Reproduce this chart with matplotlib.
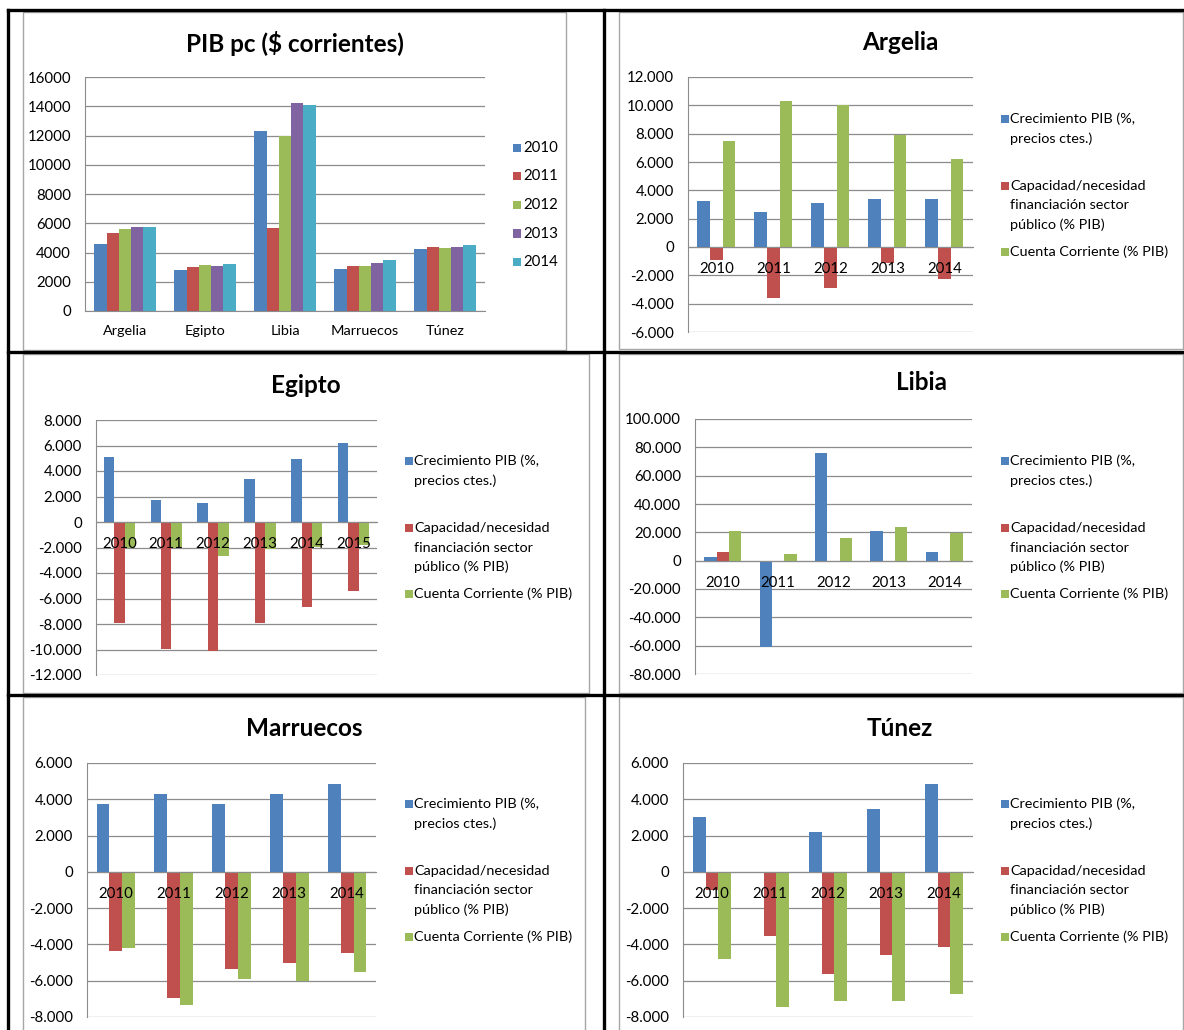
import matplotlib.pyplot as plt
import numpy as np
from matplotlib.lines import Line2D
from matplotlib.patches import Rectangle

# ---- data ----
countries = ["Argelia", "Egipto", "Libia", "Marruecos", "Túnez"]
years_pib = ["2010", "2011", "2012", "2013", "2014"]
pib_2010 = [4550, 2800, 12280, 2870, 4210]
pib_2011 = [5310, 3010, 5700, 3050, 4350]
pib_2012 = [5630, 3140, 12000, 3050, 4280]
pib_2013 = [5760, 3080, 14190, 3260, 4350]
pib_2014 = [5760, 3190, 14080, 3460, 4530]

series_names = [
    "Crecimiento PIB (%,\nprecios ctes.)",
    "Capacidad/necesidad\nfinanciación sector\npúblico (% PIB)",
    "Cuenta Corriente (% PIB)",
]

argelia_years = ["2010", "2011", "2012", "2013", "2014"]
argelia_crec = [3.26, 2.49, 3.08, 3.40, 3.40]
argelia_cap = [-0.94, -3.61, -2.89, -1.10, -2.23]
argelia_cc = [7.51, 10.30, 10.02, 7.93, 6.24]

egipto_years = ["2010", "2011", "2012", "2013", "2014", "2015"]
egipto_crec = [5.10, 1.70, 1.49, 3.35, 4.97, 6.22]
egipto_cap = [-7.90, -9.99, -10.09, -7.90, -6.67, -5.41]
egipto_cc = [-2.00, -2.00, -2.67, -2.14, -1.96, -1.83]

libia_years = ["2010", "2011", "2012", "2013", "2014"]
libia_crec = [2.6, -61.1, 75.9, 20.9, 6.3]
libia_cap = [6.3, 0, 0, 0, 0]
libia_cc = [20.9, 4.5, 15.7, 23.5, 19.7]

marruecos_years = ["2010", "2011", "2012", "2013", "2014"]
marruecos_crec = [3.72, 4.29, 3.72, 4.29, 4.85]
marruecos_cap = [-4.36, -6.96, -5.35, -5.04, -4.49]
marruecos_cc = [-4.21, -7.36, -5.93, -6.01, -5.53]

tunez_years = ["2010", "2011", "2012", "2013", "2014"]
tunez_crec = [3.01, 0, 2.21, 3.49, 4.83]
tunez_cap = [-1.0, -3.53, -5.64, -4.61, -4.15]
tunez_cc = [-4.82, -7.46, -7.10, -7.10, -6.73]

BLUE, RED, GREEN, PURPLE, AQUA = "#4F81BD", "#C0504D", "#9BBB59", "#8064A2", "#4BACC6"
GRID = "#8c8c8c"
FONT = "Lato"

W, H = 1184, 1030
fig = plt.figure(figsize=(W / 100, H / 100), dpi=100)
fig.patch.set_facecolor("white")


def fx(x):
    return x / W


def fy(y):
    return 1 - y / H


def px_axes(x0, y0, x1, y1):
    return fig.add_axes([fx(x0), fy(y1), (x1 - x0) / W, (y1 - y0) / H])


def frame(x0, y0, x1, y1):
    fig.add_artist(Rectangle((fx(x0), fy(y1)), (x1 - x0) / W, (y1 - y0) / H,
                             transform=fig.transFigure, fill=False,
                             edgecolor="#a6a6a6", lw=1.0))


def table_line(x0, y0, x1, y1):
    fig.add_artist(Line2D([fx(x0), fx(x1)], [fy(y0), fy(y1)],
                          transform=fig.transFigure, color="black", lw=2.4))


def style_axes(ax, lo, hi, step, fmt):
    ax.set_ylim(lo, hi)
    ticks = np.arange(lo, hi + step / 2, step)
    ax.set_yticks(ticks)
    ax.set_yticklabels([fmt(t) for t in ticks], fontsize=10.8, family=FONT)
    ax.set_axisbelow(True)
    ax.grid(axis="y", color=GRID, lw=0.9)
    ax.spines["top"].set_visible(False)
    ax.spines["right"].set_visible(False)
    ax.spines["left"].set_color(GRID)
    ax.spines["bottom"].set_color(GRID)
    ax.spines["bottom"].set_position(("data", 0))
    ax.tick_params(length=0, pad=10)
    ax.set_facecolor("none")


def sub_fmt(v):
    return "0" if v == 0 else f"{v:.3f}"


def draw_panel(fr, plot, title_xy, title, years, vals, ylim, step):
    frame(*fr)
    ax = px_axes(*plot)
    n = len(years)
    x = np.arange(n)
    w = 1 / (3 + 1.5)
    for i, (v, c) in enumerate(zip(vals, [BLUE, RED, GREEN])):
        ax.bar(x + (i - 1) * w, v, w, color=c, zorder=2)
    ax.set_xlim(-0.5, n - 0.5)
    style_axes(ax, ylim[0], ylim[1], step, sub_fmt)
    ax.set_xticks(x)
    ax.set_xticklabels([])
    # category labels drawn over the bars, next to the zero line
    for xi, yr in zip(x, years):
        ax.annotate(yr, (xi, 0), xytext=(0, -16), textcoords="offset points",
                    ha="center", va="center", fontsize=10.8, family=FONT, zorder=5)
    fig.text(fx(title_xy[0]), fy(title_xy[1]), title, ha="center", va="center",
             fontsize=17.5, fontweight="bold", family=FONT)
    # legend
    lx = fr[0] + 382
    for k, (name, c) in enumerate(zip(series_names, [BLUE, RED, GREEN])):
        y0 = fr[1] + [107, 174, 240][k]
        fig.add_artist(Rectangle((fx(lx), fy(y0 + 4)), 8 / W, 8 / H,
                                 transform=fig.transFigure, color=c, lw=0))
        for j, line in enumerate(name.split("\n")):
            fig.text(fx(lx + 9), fy(y0 + j * 19.5), line, ha="left", va="center",
                     fontsize=10.4, family=FONT)


# ---- table lines ----
table_line(8, 10, 1184, 10)
table_line(8, 10, 8, 1030)
table_line(604, 10, 604, 1030)
table_line(8, 352, 1184, 352)
table_line(8, 695, 1184, 695)

# ---- PIB pc panel ----
frame(23, 12, 566, 350)
ax = px_axes(85, 77, 485, 311)
pib_series = [pib_2010, pib_2011, pib_2012, pib_2013, pib_2014]
pib_colors = [BLUE, RED, GREEN, PURPLE, AQUA]
x = np.arange(len(countries))
w = 1 / (5 + 1.5)
for i, (v, c) in enumerate(zip(pib_series, pib_colors)):
    ax.bar(x + (i - 2) * w, v, w, color=c, zorder=2)
ax.set_xlim(-0.5, len(countries) - 0.5)
style_axes(ax, 0, 16000, 2000, lambda v: f"{int(v)}")
ax.set_xticks(x)
ax.set_xticklabels(countries, fontsize=10.4, family=FONT)
fig.text(fx(295), fy(43), "PIB pc ($ corrientes)", ha="center", va="center",
         fontsize=17.5, fontweight="bold", family=FONT)
for k, (yr, c) in enumerate(zip(years_pib, pib_colors)):
    yy = 148 + k * 28.5
    fig.add_artist(Rectangle((fx(513), fy(yy + 4)), 8 / W, 8 / H,
                             transform=fig.transFigure, color=c, lw=0))
    fig.text(fx(523), fy(yy), yr, ha="left", va="center", fontsize=10.8, family=FONT)

# ---- country panels ----
draw_panel((619, 12, 1183, 349), (688, 77, 973, 332), (900, 42), "Argelia",
           argelia_years, [argelia_crec, argelia_cap, argelia_cc], (-6, 12), 2)
draw_panel((23, 354, 589, 693), (96, 420, 377, 675), (306, 385), "Egipto",
           egipto_years, [egipto_crec, egipto_cap, egipto_cc], (-12, 8), 2)
draw_panel((619, 354, 1183, 693), (695, 419, 972, 674), (922, 383), "Libia",
           libia_years, [libia_crec, libia_cap, libia_cc], (-80, 100), 20)
draw_panel((23, 697, 585, 1040), (87, 763, 376, 1017), (304, 728), "Marruecos",
           marruecos_years, [marruecos_crec, marruecos_cap, marruecos_cc], (-8, 6), 2)
draw_panel((619, 697, 1183, 1040), (683, 763, 973, 1017), (900, 728), "Túnez",
           tunez_years, [tunez_crec, tunez_cap, tunez_cc], (-8, 6), 2)

fig.savefig("out.png", dpi=100)
